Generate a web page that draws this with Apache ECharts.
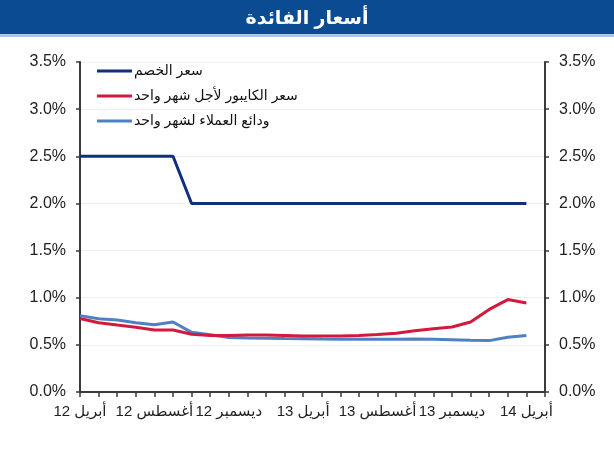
<!DOCTYPE html>
<html>
<head>
<meta charset="utf-8">
<script src="https://cdn.jsdelivr.net/npm/echarts@6/dist/echarts.min.js"></script>
<style>
  html, body { margin: 0; padding: 0; background: #fff; }
  #chart { width: 614px; height: 450px; direction: rtl; }
</style>
</head>
<body>
<div id="chart"></div>
<script>
// months April 2012 .. April 2014, plus one empty slot at the end of the axis
const months = [
  'أبريل 12', 'مايو 12', 'يونيو 12', 'يوليو 12', 'أغسطس 12', 'سبتمبر 12', 'أكتوبر 12', 'نوفمبر 12',
  'ديسمبر 12', 'يناير 13', 'فبراير 13', 'مارس 13', 'أبريل 13', 'مايو 13', 'يونيو 13', 'يوليو 13',
  'أغسطس 13', 'سبتمبر 13', 'أكتوبر 13', 'نوفمبر 13', 'ديسمبر 13', 'يناير 14', 'فبراير 14', 'مارس 14',
  'أبريل 14', ''
]

const discountRate = [
  2.5, 2.5, 2.5, 2.5, 2.5, 2.5, 2.0, 2.0, 2.0, 2.0, 2.0, 2.0, 2.0,
  2.0, 2.0, 2.0, 2.0, 2.0, 2.0, 2.0, 2.0, 2.0, 2.0, 2.0, 2.0
]
const kibor1m = [
  0.78, 0.735, 0.71, 0.686, 0.657, 0.657, 0.612, 0.60, 0.60, 0.605, 0.605, 0.60, 0.595,
  0.595, 0.595, 0.60, 0.61, 0.623, 0.65, 0.67, 0.69, 0.742, 0.876, 0.98, 0.945
]
const deposits1m = [
  0.81, 0.777, 0.763, 0.735, 0.713, 0.742, 0.633, 0.608, 0.577, 0.572, 0.57, 0.567, 0.565,
  0.562, 0.56, 0.56, 0.56, 0.56, 0.562, 0.56, 0.555, 0.548, 0.545, 0.58, 0.60
]

const seriesNames = ['سعر الخصم', 'سعر الكايبور لأجل شهر واحد', 'ودائع العملاء لشهر واحد']
const seriesColors = ['#122f7c', '#d21a3e', '#4f81c0']

const font = "'Liberation Sans', Arial, 'DejaVu Sans', sans-serif"

const chart = echarts.init(document.getElementById('chart'))

function yAxis(pos) {
  return {
    type: 'value',
    position: pos,
    min: 0,
    max: 3.5,
    interval: 0.5,
    axisLine: { show: true, lineStyle: { color: '#3a3a3a', width: 2 } },
    axisTick: { show: true, length: 4, lineStyle: { color: '#3a3a3a', width: 1.5 } },
    axisLabel: {
      color: '#222',
      fontSize: 16,
      fontFamily: font,
      margin: 14,
      formatter: (v) => v.toFixed(1) + '%'
    },
    splitLine: { show: pos === 'left', lineStyle: { color: '#eeeeee', width: 1 } }
  }
}

chart.setOption({
  animation: false,
  backgroundColor: '#fff',
  graphic: [
    { type: 'rect', left: 0, top: 0, shape: { width: 614, height: 34 }, style: { fill: '#0b4b92' } },
    { type: 'rect', left: 0, top: 34, shape: { width: 614, height: 3 }, style: { fill: '#a9c7e6' } }
  ],
  title: {
    text: 'أسعار الفائدة',
    left: 'center',
    top: 4,
    textStyle: { color: '#fff', fontSize: 19, fontWeight: 'bold', fontFamily: font }
  },
  legend: {
    orient: 'vertical',
    left: 92,
    top: 59,
    icon: 'rect',
    itemWidth: 35,
    itemHeight: 3,
    itemGap: 11,
    textStyle: { color: '#111', fontSize: 14, fontFamily: font, padding: [0, 0, 0, -3] },
    data: seriesNames
  },
  grid: { left: 80, right: 69, top: 62, bottom: 58 },
  xAxis: {
    type: 'category',
    data: months,
    boundaryGap: false,
    axisLine: { lineStyle: { color: '#3a3a3a', width: 2 } },
    axisTick: { show: true, interval: 0, length: 5, lineStyle: { color: '#3a3a3a', width: 1.5 } },
    axisLabel: { interval: 3, color: '#222', fontSize: 15, fontFamily: font, margin: 12 },
    splitLine: { show: false }
  },
  yAxis: [yAxis('left'), yAxis('right')],
  series: [discountRate, kibor1m, deposits1m].map((d, i) => ({
    name: seriesNames[i],
    type: 'line',
    data: d,
    yAxisIndex: 0,
    symbol: 'none',
    lineStyle: { color: seriesColors[i], width: 3 },
    itemStyle: { color: seriesColors[i] },
    z: 3 - i
  }))
})
</script>
</body>
</html>
